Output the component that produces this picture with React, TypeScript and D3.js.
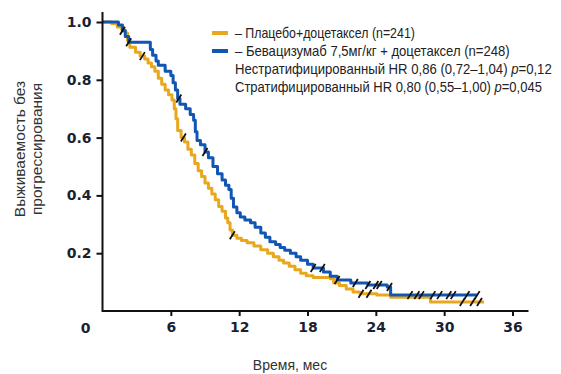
import React, { useRef, useEffect } from "react";
import * as d3 from "d3";

// Время (мес) и доля без прогрессирования
const placeboTime = [0, 0.8, 1.3, 1.7, 2.0, 2.2, 2.4, 2.9, 3.3, 3.7, 4.0, 4.3, 4.6, 4.9, 5.2, 5.5, 5.8, 6.1, 6.3, 6.45, 6.6, 6.9, 7.2, 7.5, 7.8, 8.1, 8.4, 8.7, 9.0, 9.3, 9.6, 9.9, 10.2, 10.5, 10.8, 11.0, 11.2, 11.4, 11.8, 12.2, 12.7, 13.3, 13.9, 14.5, 15.0, 15.5, 15.9, 16.4, 16.9, 17.4, 17.9, 18.5, 20.0, 20.3, 20.8, 21.4, 22.0, 22.6, 24.1, 25.3, 28.8, 33.5];
const placeboSurv = [1.0, 0.995, 0.983, 0.972, 0.962, 0.935, 0.913, 0.895, 0.882, 0.872, 0.858, 0.845, 0.83, 0.805, 0.785, 0.765, 0.748, 0.73, 0.7, 0.665, 0.625, 0.6, 0.585, 0.56, 0.54, 0.51, 0.485, 0.465, 0.443, 0.425, 0.405, 0.385, 0.362, 0.345, 0.322, 0.305, 0.28, 0.262, 0.252, 0.244, 0.236, 0.225, 0.212, 0.2, 0.188, 0.176, 0.166, 0.155, 0.143, 0.131, 0.122, 0.116, 0.112, 0.097, 0.088, 0.076, 0.066, 0.06, 0.055, 0.048, 0.031, 0.031];
const bevaTime = [0, 1.4, 1.75, 2.0, 2.3, 4.0, 4.2, 4.4, 4.7, 4.9, 5.5, 6.0, 6.2, 6.4, 6.6, 6.8, 7.3, 7.7, 8.0, 8.15, 8.3, 8.6, 9.0, 9.3, 9.7, 10.1, 10.5, 10.8, 11.1, 11.3, 11.5, 11.8, 12.1, 12.5, 13.0, 13.4, 13.9, 14.3, 14.7, 15.2, 15.6, 16.0, 16.5, 17.0, 17.4, 18.0, 18.5, 19.4, 20.0, 20.6, 21.8, 23.3, 25.0, 25.3, 32.9];
const bevaSurv = [1.0, 0.99, 0.97, 0.95, 0.93, 0.93, 0.905, 0.885, 0.865, 0.85, 0.83, 0.815, 0.79, 0.765, 0.735, 0.715, 0.7, 0.68, 0.66, 0.62, 0.59, 0.575, 0.55, 0.53, 0.5, 0.475, 0.453, 0.435, 0.42, 0.39, 0.36, 0.34, 0.325, 0.315, 0.305, 0.29, 0.27, 0.255, 0.24, 0.23, 0.22, 0.21, 0.2, 0.188, 0.176, 0.162, 0.149, 0.135, 0.12, 0.107, 0.097, 0.09, 0.083, 0.055, 0.055];

// Цензурированные наблюдения
const placeboCensor = [3.5, 7.1, 11.4, 22.7, 23.4, 31.6, 32.5, 33.1];
const bevaCensor = [1.75, 2.3, 6.7, 9.0, 18.5, 19.3, 20.6, 22.2, 23.3, 24.0, 24.3, 25.2, 27.0, 27.6, 28.0, 29.0, 29.6, 30.4, 30.8, 32.0, 32.9];

const xTicks = [6, 12, 18, 24, 30, 36];
const yTicks = [0.2, 0.4, 0.6, 0.8, 1.0];

const ORANGE = "#e8a81e";
const BLUE = "#1156b2";

const legendRows = [
  { text: "– Плацебо+доцетаксел (n=241)", color: ORANGE, len: 180 },
  { text: "– Бевацизумаб 7,5мг/кг + доцетаксел (n=248)", color: BLUE, len: 275 },
  { text: "Нестратифицированный HR 0,86 (0,72–1,04) ", p: "=0,12", len: 317 },
  { text: "Стратифицированный HR 0,80 (0,55–1,00) ", p: "=0,045", len: 307 },
];

export default function App() {
  const ref = useRef<SVGSVGElement>(null);
  const width = 561,
    height = 374;

  useEffect(() => {
    const svg = d3.select(ref.current);
    svg.selectChildren().remove();

    const x = d3.scaleLinear().domain([0, 36]).range([102.5, 512.5]);
    const y = d3.scaleLinear().domain([0, 1]).range([311, 22]);

    const g = svg.append("g").style("font-family", "Liberation Sans, Arial, sans-serif");

    // Кривые
    const series = [
      { t: placeboTime, s: placeboSurv, c: placeboCensor, color: ORANGE },
      { t: bevaTime, s: bevaSurv, c: bevaCensor, color: BLUE },
    ];
    const line = d3
      .line<[number, number]>()
      .x((d) => x(d[0]))
      .y((d) => y(d[1]))
      .curve(d3.curveStepAfter);

    series.forEach((sr) => {
      const pts = sr.t.map((t, i) => [t, sr.s[i]] as [number, number]);
      g.append("path")
        .attr("d", line(pts))
        .attr("fill", "none")
        .attr("stroke", sr.color)
        .attr("stroke-width", 3)
        .attr("stroke-linejoin", "round");
    });

    // Отметки цензурирования
    series.forEach((sr) => {
      const at = (t: number) => {
        const i = d3.bisectRight(sr.t, t) - 1;
        return sr.s[Math.max(0, i)];
      };
      g.append("g")
        .selectAll("line")
        .data(sr.c)
        .join("line")
        .attr("x1", (d) => x(d) - 2.5)
        .attr("y1", (d) => y(at(d)) + 4)
        .attr("x2", (d) => x(d) + 2.5)
        .attr("y2", (d) => y(at(d)) - 4)
        .attr("stroke", "#111")
        .attr("stroke-width", 1.8);
    });

    // Оси
    const axisColor = "#111";
    g.append("line")
      .attr("x1", x(0))
      .attr("x2", x(36) + 16)
      .attr("y1", y(0))
      .attr("y2", y(0))
      .attr("stroke", axisColor)
      .attr("stroke-width", 2);
    g.append("line")
      .attr("x1", x(0))
      .attr("x2", x(0))
      .attr("y1", y(0) + 1)
      .attr("y2", y(1) - 10)
      .attr("stroke", axisColor)
      .attr("stroke-width", 2);

    const styleTicks = (sel: any) =>
      sel
        .attr("fill", "#1b1f33")
        .style("font-size", "14px")
        .style("font-weight", "bold")
        .style("font-family", "DejaVu Sans, Liberation Sans, sans-serif");

    const xa = g
      .append("g")
      .attr("transform", `translate(0, ${y(0)})`)
      .call(d3.axisBottom(x).tickValues(xTicks).tickSize(5).tickPadding(6).tickFormat(d3.format("d")));
    xa.select(".domain").remove();
    xa.selectAll("line").attr("stroke", axisColor).attr("stroke-width", 2);
    styleTicks(xa.selectAll("text"));

    const ya = g
      .append("g")
      .attr("transform", `translate(${x(0)}, 0)`)
      .call(d3.axisLeft(y).tickValues(yTicks).tickSize(6).tickPadding(5).tickFormat(d3.format(".1f")));
    ya.select(".domain").remove();
    ya.selectAll("line").attr("stroke", axisColor).attr("stroke-width", 2);
    styleTicks(ya.selectAll("text"));

    // Общий ноль в углу
    styleTicks(
      g
        .append("text")
        .attr("x", x(0) - 17)
        .attr("y", y(0) + 22)
        .attr("text-anchor", "middle")
        .text("0")
    );

    // Подписи осей
    g.append("text")
      .attr("x", 290)
      .attr("y", 370)
      .attr("text-anchor", "middle")
      .attr("fill", "#333")
      .style("font-size", "14px")
      .text("Время, мес");

    const yt = g
      .append("text")
      .attr("transform", "translate(25, 149) rotate(-90)")
      .attr("text-anchor", "middle")
      .attr("fill", "#333")
      .style("font-size", "15.5px");
    yt.append("tspan").attr("x", 0).attr("dy", 0).text("Выживаемость без");
    yt.append("tspan").attr("x", 0).attr("dy", 17).text("прогрессирования");

    // Легенда
    const lg = g.append("g").attr("transform", "translate(212, 33)");
    legendRows.forEach((r, i) => {
      const yy = i * 18;
      if (r.color) {
        lg.append("line")
          .attr("x1", 0)
          .attr("x2", 16)
          .attr("y1", yy)
          .attr("y2", yy)
          .attr("stroke", r.color)
          .attr("stroke-width", 4);
      }
      const t = lg
        .append("text")
        .attr("fill", "#222")
        .style("font-size", "14px");
      t.append("tspan").text(r.text);
      if (r.p) {
        t.append("tspan").style("font-style", "italic").text("p");
        t.append("tspan").text(r.p);
      }
      // сжимаем по ширине, как узкий шрифт оригинала
      const natural = (t.node() as SVGTextElement).getComputedTextLength() || r.len;
      t.attr("transform", `translate(23, ${yy + 5}) scale(${r.len / natural}, 1)`);
    });
  }, []);

  return (
    <svg
      ref={ref}
      width={width}
      height={height}
      style={{ position: "absolute", left: 0, top: 0, background: "#fff" }}
    />
  );
}
